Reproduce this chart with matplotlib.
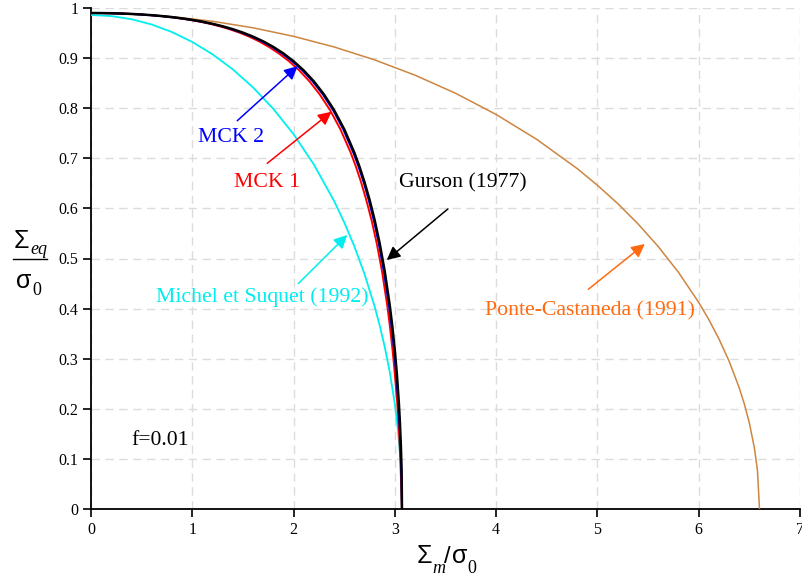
import matplotlib
matplotlib.use("Agg")
import matplotlib.pyplot as plt

# curves (Sigma_m/sigma_0 , Sigma_eq/sigma_0)
gurson_x = [0, 0.1, 0.2, 0.3, 0.4, 0.5, 0.6, 0.7, 0.8, 0.9, 1.0,
            1.1, 1.2, 1.3, 1.4, 1.5, 1.6, 1.7, 1.8, 1.9, 2.0,
            2.1, 2.2, 2.3, 2.4, 2.5, 2.6, 2.65, 2.7, 2.75, 2.8, 2.85, 2.9, 2.95, 2.975, 3.0,
            3.02, 3.04, 3.05, 3.06, 3.065, 3.068, 3.0701]
gurson_y = [0.990, 0.98989, 0.98954, 0.98896, 0.98812, 0.98702, 0.98562, 0.98388, 0.98178, 0.97925, 0.97624,
            0.97268, 0.96848, 0.96353, 0.95771, 0.95088, 0.94285, 0.93341, 0.92230, 0.90920, 0.89372,
            0.87539, 0.85358, 0.82751, 0.79614, 0.75806, 0.71124, 0.68368, 0.65263, 0.61746, 0.57714, 0.53026, 0.47455, 0.40593, 0.36467, 0.31594,
            0.26907, 0.21024, 0.17245, 0.12290, 0.08770, 0.05600, 0.0]
# MCK curves share the Gurson ordinates
mck1_x = [0, 0.098, 0.196, 0.294, 0.392, 0.49, 0.588, 0.686, 0.783, 0.881, 0.978,
          1.076, 1.173, 1.27, 1.367, 1.465, 1.562, 1.659, 1.757, 1.855, 1.955,
          2.056, 2.157, 2.258, 2.36, 2.462, 2.564, 2.615, 2.666, 2.717, 2.769, 2.821, 2.873, 2.925, 2.951, 2.978,
          3.0, 3.024, 3.036, 3.049, 3.056, 3.061, 3.0701]
mck2_x = [0, 0.1, 0.199, 0.299, 0.398, 0.497, 0.596, 0.695, 0.794, 0.894, 0.993,
          1.092, 1.191, 1.29, 1.389, 1.488, 1.587, 1.686, 1.786, 1.886, 1.986,
          2.087, 2.188, 2.289, 2.39, 2.49, 2.59, 2.641, 2.691, 2.741, 2.791, 2.841, 2.891, 2.942, 2.967, 2.993,
          3.013, 3.034, 3.045, 3.056, 3.062, 3.066, 3.0701]
michel_x = [0, 0.2, 0.4, 0.6, 0.8, 1.0, 1.2, 1.4, 1.6, 1.8, 2.0, 2.2, 2.4, 2.5, 2.6, 2.7,
            2.8, 2.85, 2.9, 2.95, 3.0, 3.03, 3.05, 3.06, 3.065, 3.07]
michel_y = [0.986, 0.98391, 0.97760, 0.96698, 0.95193, 0.93223, 0.90756, 0.87751, 0.84150, 0.79874,
            0.74806, 0.68771, 0.61485, 0.57227, 0.52429, 0.46928, 0.40434, 0.36652, 0.32354, 0.27299,
            0.20935, 0.15865, 0.11232, 0.07955, 0.05624, 0.0]
ponte_x = [0, 0.4, 0.8, 1.2, 1.6, 2.0, 2.4, 2.8, 3.2, 3.6, 4.0, 4.4, 4.8, 5.0, 5.2, 5.4, 5.6, 5.8,
           6.0, 6.1, 6.2, 6.3, 6.4, 6.45, 6.5, 6.55, 6.58, 6.6]
ponte_y = [0.990, 0.98818, 0.98270, 0.97350, 0.96047, 0.94345, 0.92223, 0.89649, 0.86585, 0.82976,
           0.78747, 0.73790, 0.67948, 0.64622, 0.60967, 0.56921, 0.52393, 0.47244, 0.41243, 0.37799,
           0.33941, 0.29508, 0.24187, 0.20987, 0.17168, 0.12163, 0.07701, 0.0]

x_ticks = [0, 1, 2, 3, 4, 5, 6, 7]
y_ticks = [0, 0.1, 0.2, 0.3, 0.4, 0.5, 0.6, 0.7, 0.8, 0.9, 1.0]
y_labels = ["0", "0.1", "0.2", "0.3", "0.4", "0.5", "0.6", "0.7", "0.8", "0.9", "1"]

W, H = 803, 580
SERIF = "Liberation Serif"
SANS = "Liberation Sans"
plt.rcParams["font.family"] = [SERIF, "DejaVu Serif"]

fig = plt.figure(figsize=(W / 100, H / 100), dpi=100)
ax = fig.add_axes([91 / W, 1 - 509 / H, (800 - 91) / W, (509 - 8) / H])


def ftext(px, py, s, **kw):
    # place text by pixel position (origin top-left)
    fig.text(px / W, 1 - py / H, s, va="baseline", **kw)


ax.plot(ponte_x, ponte_y, color="#cd8540", lw=1.1, zorder=3)
ax.plot(michel_x, michel_y, color="#00f0f0", lw=1.3, zorder=3)
ax.plot(mck1_x, gurson_y, color="red", lw=1.4, zorder=4)
ax.plot(mck2_x, gurson_y, color="blue", lw=1.4, zorder=5)
ax.plot(gurson_x, gurson_y, color="black", lw=1.8, zorder=6)

ax.set_xlim(0, 7)
ax.set_ylim(0, 1)
ax.set_xticks(x_ticks)
ax.set_xticklabels([str(t) for t in x_ticks])
ax.set_yticks(y_ticks)
ax.set_yticklabels(y_labels)
ax.tick_params(direction="out", length=6, width=1.2, labelsize=11.5, pad=3)
for side in ["top", "right"]:
    ax.spines[side].set_visible(False)
for side in ["left", "bottom"]:
    ax.spines[side].set_linewidth(1.3)
ax.grid(True, color="#dcdcdc", lw=1.0, linestyle=(0, (6, 4)), zorder=0)
ax.set_axisbelow(True)


def note(text, xy, xytext, color, tx, ty):
    ax.annotate("", xy=xy, xytext=xytext,
                arrowprops=dict(arrowstyle="-|>", color=color, lw=1.1,
                                mutation_scale=20, shrinkA=0, shrinkB=0),
                zorder=7)
    ax.text(tx, ty, text, color=color, fontsize=15.7, ha="center", va="center")


note("MCK 2", (2.04, 0.884), (1.444, 0.775), "blue", 1.38, 0.742)
note("MCK 1", (2.375, 0.793), (1.74, 0.690), "red", 1.74, 0.652)
note("Gurson (1977)", (2.92, 0.497), (3.524, 0.599), "black", 3.67, 0.650)
note("Michel et Suquet (1992)", (2.53, 0.547), (2.047, 0.450), "#00eeee", 1.69, 0.423)
note("Ponte-Castaneda (1991)", (5.468, 0.529), (4.91, 0.4385), "#ff6a10", 4.93, 0.395)
ax.text(0.68, 0.136, "f=0.01", color="black", fontsize=15.7, ha="center", va="center")

# y label as a fraction
ftext(14, 248, "\u03a3", family=SANS, fontsize=18)
ftext(30, 254, "eq", family=SERIF, style="italic", fontsize=13)
fig.add_artist(plt.Line2D([13 / W, 47 / W], [1 - 259 / H, 1 - 259 / H], color="black", lw=1.0))
ftext(16, 288, "\u03c3", family=SANS, fontsize=18)
ftext(32, 295, "0", family=SERIF, fontsize=13)

# x label
ftext(417, 563, "\u03a3", family=SANS, fontsize=18)
ftext(432, 573, "m", family=SERIF, style="italic", fontsize=13)
ftext(444, 563, "/", family=SANS, fontsize=17)
ftext(452, 563, "\u03c3", family=SANS, fontsize=18)
ftext(467, 573, "0", family=SERIF, fontsize=13)

fig.savefig("out.png", dpi=100)
